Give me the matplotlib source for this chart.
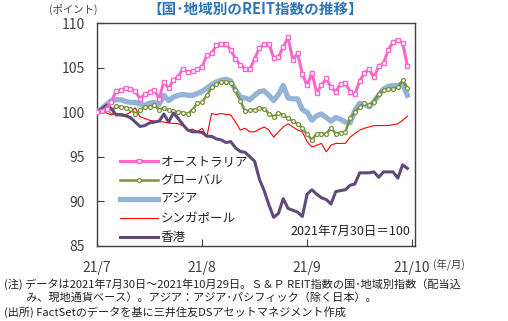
import numpy as np
import matplotlib.pyplot as plt

plt.rcParams['font.family'] = ['Noto Sans CJK JP', 'DejaVu Sans']

# 営業日ベースの指数（2021/7/30 = 100）
australia = [100.0, 100.1, 100.4, 101.2, 102.4, 102.5, 102.7, 102.6, 102.4, 101.5,
             102.0, 102.3, 102.5, 101.5, 103.4, 102.7, 103.6, 104.0, 104.9, 104.5,
             104.6, 104.8, 105.1, 106.4, 106.6, 107.5, 107.7, 107.7, 107.0, 106.0,
             105.3, 104.9, 104.8, 106.0, 107.2, 107.6, 107.7, 106.1, 106.2, 107.3,
             108.4, 105.9, 106.6, 104.3, 103.0, 104.4, 102.2, 103.0, 103.8, 102.8,
             102.3, 103.2, 103.3, 102.3, 102.0, 103.5, 104.4, 104.8, 103.9, 105.2,
             105.5, 107.0, 107.9, 108.1, 107.8, 105.2]
global_reit = [100.0, 100.3, 100.5, 100.1, 100.7, 100.6, 100.5, 100.4, 99.85, 100.2,
               100.6, 100.6, 100.8, 100.3, 100.5, 100.2, 100.1, 100.0, 99.95, 99.8,
               100.3, 101.0, 101.15, 101.9, 102.8, 103.2, 103.4, 103.4, 103.3, 102.5,
               101.3, 100.1, 100.2, 100.3, 100.5, 100.4, 99.85, 99.5, 99.9, 99.7,
               99.3, 99.0, 98.7, 98.2, 97.5, 96.9, 97.6, 97.6, 97.6, 98.2,
               97.6, 97.7, 97.8, 99.3, 100.0, 100.6, 101.0, 100.8, 101.2, 102.1,
               102.5, 102.6, 102.65, 102.8, 103.6, 102.7]
asia = [100.0, 100.4, 100.9, 101.3, 101.4, 101.4, 101.2, 101.1, 101.1, 100.9,
        100.8, 101.0, 101.1, 100.9, 101.9, 101.3, 101.7, 101.9, 102.0, 101.9,
        101.9, 102.1, 102.35, 102.7, 103.1, 103.4, 103.6, 103.7, 103.5, 102.5,
        101.7, 101.6, 101.4, 101.9, 102.3, 102.4, 101.9, 101.3, 102.0, 103.0,
        101.6, 101.5, 101.5, 100.3, 100.0, 99.1, 99.6, 99.8, 99.4, 99.0,
        99.4, 99.2, 98.9, 98.8, 100.2, 101.0, 100.9, 100.6, 101.2, 101.9,
        102.6, 102.9, 103.0, 103.0, 103.2, 101.9]
singapore = [100.0, 100.1, 99.9, 99.7, 99.8, 99.85, 99.7, 100.0, 100.5, 99.5,
             99.3, 99.1, 99.0, 98.95, 98.9, 98.8, 98.75, 98.7, 98.5, 98.0,
             98.1, 97.8, 98.2, 97.3, 99.85, 99.75, 99.85, 99.75, 99.7, 98.9,
             98.0, 98.2, 97.8, 97.8, 98.1, 98.35, 98.0, 97.2, 97.8, 98.35,
             98.7, 98.35, 98.0, 97.8, 96.7, 96.1, 96.3, 96.5, 95.55, 96.3,
             96.5, 96.5, 96.5, 97.2, 97.6, 98.0, 98.2, 98.35, 98.5, 98.5,
             98.5, 98.5, 98.6, 98.7, 99.1, 99.55]
hongkong = [100.0, 100.4, 100.8, 100.4, 99.7, 99.7, 99.6, 99.4, 98.9, 98.4,
            98.5, 98.8, 98.9, 99.0, 99.8, 98.9, 99.9, 99.3, 98.6, 98.0,
            97.8, 97.8, 97.75, 97.3, 97.3, 97.0, 96.9, 96.6, 96.7, 96.0,
            95.6, 95.5, 95.0, 94.5, 92.5, 91.2, 89.6, 88.2, 88.65, 90.3,
            89.2, 89.0, 88.8, 88.3, 90.8, 91.3, 90.8, 90.4, 90.2, 89.7,
            91.1, 91.2, 91.3, 91.8, 91.95, 93.2, 93.2, 93.2, 93.3, 92.7,
            93.3, 93.3, 93.3, 92.6, 94.1, 93.7]

xtick_pos = [0, 22, 44, 66]
xtick_labels = ['21/7', '21/8', '21/9', '21/10']

x = np.arange(len(australia))
txt = '#404040'

fig = plt.figure(figsize=(5.08, 3.21), dpi=100)
ax = fig.add_axes([0.191, 0.234, 0.626, 0.694])

ax.plot(x, australia, color='#FF66CC', lw=2.2, marker='s', ms=3.5, mfc='white',
        mec='#FF66CC', mew=1.0, label='オーストラリア', zorder=6)
ax.plot(x, global_reit, color='#77933C', lw=1.8, marker='o', ms=2.8, mfc='white',
        mec='#77933C', mew=0.9, label='グローバル', zorder=4)
ax.plot(x, asia, color='#95B3D7', lw=3.8, label='アジア', zorder=3)
ax.plot(x, singapore, color='#FF0000', lw=0.8, label='シンガポール', zorder=2)
ax.plot(x, hongkong, color='#604A7B', lw=2.2, label='香港', zorder=5)

ax.set_xlim(0, 66.6)
ax.set_ylim(85, 110)
ax.set_yticks([85, 90, 95, 100, 105, 110])
ax.set_xticks(xtick_pos)
ax.set_xticklabels(xtick_labels)
ax.tick_params(axis='both', direction='in', length=5, colors='#404040',
               labelsize=10, labelcolor=txt)
ax.tick_params(axis='y', pad=9)
ax.tick_params(axis='x', pad=11)
for s in ax.spines.values():
    s.set_color('#404040')
    s.set_linewidth(1.0)

leg = ax.legend(loc='lower left', bbox_to_anchor=(0.05, -0.025), frameon=False,
                fontsize=9, handlelength=3.0, handletextpad=0.2,
                labelspacing=0.48, borderaxespad=0.2)
for t in leg.get_texts():
    t.set_color('#222222')

ax.text(0.985, 0.035, '2021年7月30日＝100', transform=ax.transAxes,
        ha='right', va='bottom', fontsize=9, color='#222222')

fig.text(0.503, 0.972, '【国･地域別のREIT指数の推移】', ha='center', va='center',
         fontsize=10.5, fontweight='bold', color='#2E75B6')
fig.text(0.096, 0.972, '(ポイント)', ha='left', va='center', fontsize=7.5, color=txt)
fig.text(0.853, 0.176, '(年/月)', ha='left', va='center', fontsize=7.5, color=txt)

notes = ['(注) データは2021年7月30日～2021年10月29日。Ｓ＆Ｐ REIT指数の国･地域別指数（配当込',
         '　　み、現地通貨ベース）。アジア：アジア･パシフィック（除く日本）。',
         '(出所) FactSetのデータを基に三井住友DSアセットマネジメント作成']
for k, line in enumerate(notes):
    fig.text(0.008, 0.115 - k * 0.043, line, ha='left', va='center',
             fontsize=8.0, color='#222222')

fig.savefig('out.png', dpi=100)
